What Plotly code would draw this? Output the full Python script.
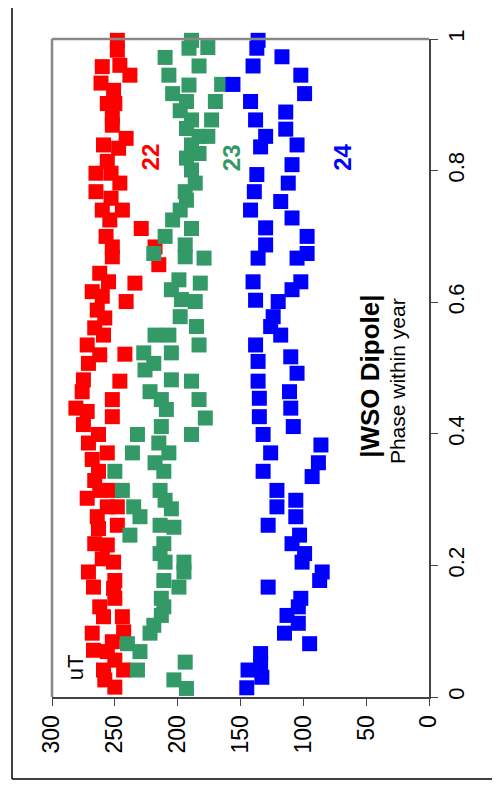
import plotly.graph_objects as go

# Cycle 22 (red): field strength uT, phase within year
c22_ut = [248,248,260,246,238,261,251,256,250,252,252,241,259,
          247,256,265,253,246,265,253,260,244,254,229,257,218,252,252,
          215,262,255,234,268,260,241,264,258,266,259,272,262,242,271,
          275,246,276,252,281,272,252,275,263,271,256,268,263,
          266,262,251,272,256,248,264,248,263,266,256,260,251,271,250,267,
          251,250,262,259,244,268,243,252,267,256,250,259,243,258,250]
c22_ph = [0.998,0.983,0.958,0.960,0.945,0.933,0.922,0.902,0.902,0.882,0.869,0.849,0.839,
          0.834,0.814,0.796,0.796,0.781,0.768,0.758,0.740,0.740,0.725,0.712,0.700,0.684,0.684,0.669,
          0.657,0.644,0.631,0.629,0.616,0.609,0.601,0.588,0.576,0.561,0.550,0.535,0.520,0.521,0.507,
          0.482,0.480,0.464,0.452,0.439,0.434,0.426,0.414,0.399,0.386,0.371,0.361,0.343,
          0.329,0.314,0.314,0.302,0.289,0.289,0.274,0.261,0.256,0.233,0.231,0.210,0.205,0.190,0.177,0.167,
          0.165,0.150,0.137,0.122,0.122,0.097,0.099,0.084,0.071,0.069,0.056,0.041,0.041,0.026,0.015]

# Cycle 23 (green)
c23_ut = [189,191,176,210,183,207,191,165,204,193,170,198,189,173,193,183,176,189,
          183,193,189,186,194,193,198,204,189,210,194,219,194,179,
          199,182,205,197,186,198,185,218,207,183,227,205,219,
          226,205,189,222,213,183,209,178,213,232,189,215,236,207,218,250,211,
          244,214,210,235,205,230,214,203,238,211,214,210,195,195,211,199,
          213,211,213,219,222,240,230,232,194,203,193]
c23_ph = [0.998,0.986,0.987,0.972,0.959,0.945,0.930,0.931,0.917,0.905,0.905,0.891,0.877,0.877,0.864,0.852,0.852,0.839,
          0.826,0.819,0.801,0.781,0.768,0.755,0.740,0.725,0.712,0.700,0.687,0.674,0.669,0.667,
          0.634,0.629,0.619,0.604,0.601,0.578,0.563,0.550,0.550,0.535,0.523,0.523,0.507,
          0.497,0.482,0.480,0.464,0.452,0.452,0.437,0.424,0.411,0.399,0.399,0.386,0.371,0.371,0.356,0.343,0.343,
          0.314,0.314,0.299,0.289,0.286,0.274,0.261,0.258,0.246,0.233,0.218,0.205,0.205,0.190,0.177,0.167,
          0.150,0.137,0.124,0.109,0.097,0.081,0.069,0.041,0.053,0.026,0.013]

# Cycle 24 (blue)
c24_ut = [136,137,117,140,102,156,99,142,114,138,114,130,105,
          134,109,137,112,139,118,142,109,130,97,130,97,136,105,
          140,102,109,138,120,124,126,118,138,110,136,
          105,136,111,135,110,135,108,132,86,126,88,132,93,
          121,106,121,106,128,103,109,99,101,85,87,128,
          102,104,113,104,115,95,134,134,144,133,145]
c24_ph = [0.998,0.986,0.973,0.959,0.945,0.931,0.917,0.905,0.889,0.877,0.863,0.852,0.839,
          0.836,0.809,0.794,0.781,0.768,0.753,0.740,0.728,0.713,0.700,0.687,0.674,0.667,0.667,
          0.631,0.631,0.619,0.603,0.601,0.578,0.563,0.550,0.535,0.517,0.510,
          0.492,0.480,0.464,0.454,0.439,0.426,0.411,0.399,0.383,0.371,0.356,0.343,0.335,
          0.314,0.299,0.289,0.274,0.261,0.246,0.233,0.218,0.205,0.190,0.177,0.167,
          0.150,0.137,0.124,0.112,0.097,0.081,0.066,0.052,0.041,0.030,0.014]

series = [
    ("22", c22_ut, c22_ph, "#FF0000"),
    ("23", c23_ut, c23_ph, "#339966"),
    ("24", c24_ut, c24_ph, "#0000FF"),
]

x_ticks = [0, 50, 100, 150, 200, 250, 300]
y_ticks = [0, 0.2, 0.4, 0.6, 0.8, 1]
y_tick_labels = ["0", "0.2", "0.4", "0.6", "0.8", "1"]

FONT = "Arial, Liberation Sans, sans-serif"

fig = go.Figure()
for name, ut, ph, col in series:
    fig.add_trace(go.Scatter(
        x=ut, y=ph, mode="markers", name=name,
        marker=dict(symbol="square", size=15, color=col, line=dict(width=0)),
        cliponaxis=False, showlegend=False,
    ))

fig.update_layout(
    width=500, height=788,
    margin=dict(l=44, r=79, t=31, b=99),
    paper_bgcolor="white", plot_bgcolor="white",
    font=dict(family=FONT, color="black", size=22),
    xaxis=dict(
        range=[300, 0], tickvals=x_ticks, ticks="outside", ticklen=7,
        tickcolor="#444", tickangle=-90, showgrid=False, zeroline=False,
        showline=True, linecolor="#444", linewidth=2,
        tickfont=dict(size=23, family=FONT),
    ),
    yaxis=dict(
        range=[0, 1], side="right", tickvals=y_ticks, ticktext=y_tick_labels,
        ticks="outside", ticklen=7, tickcolor="#444", tickangle=-90,
        showgrid=False, zeroline=False, showline=True, linecolor="#444",
        linewidth=2, tickfont=dict(size=22, family=FONT),
    ),
)

# gray top and left frame
fig.add_shape(type="line", xref="paper", yref="paper", x0=0, x1=1, y0=1, y1=1,
              line=dict(color="#888888", width=2.5))
fig.add_shape(type="line", xref="paper", yref="paper", x0=0, x1=0, y0=0, y1=1,
              line=dict(color="#888888", width=2.5))
# outer frame (left and bottom)
fig.add_shape(type="line", xref="paper", yref="paper", x0=-0.1061, x1=-0.1061,
              y0=-0.1246, y1=1.07, line=dict(color="black", width=1.5))
fig.add_shape(type="line", xref="paper", yref="paper", x0=-0.1061, x1=1.25,
              y0=-0.1246, y1=-0.1246, line=dict(color="black", width=1.5))

labels = [
    ("<b>22</b>", 222, 0.82, "#FF0000", 24),
    ("<b>23</b>", 157, 0.82, "#339966", 24),
    ("<b>24</b>", 69, 0.82, "#0000FF", 24),
]
for txt, xv, yv, col, sz in labels:
    fig.add_annotation(x=xv, y=yv, text=txt, showarrow=False, textangle=-90,
                       font=dict(color=col, size=sz, family=FONT))

fig.add_annotation(x=47, y=0.488, text="<b>|WSO Dipole|</b>", showarrow=False,
                   textangle=-90, font=dict(size=26, family=FONT))
fig.add_annotation(x=25.5, y=0.48, text="Phase within year", showarrow=False,
                   textangle=-90, font=dict(size=21, family=FONT))
fig.add_annotation(x=281, y=0.045, text="uT", showarrow=False,
                   textangle=-90, font=dict(size=22, family=FONT))

fig.write_html("out.html")
